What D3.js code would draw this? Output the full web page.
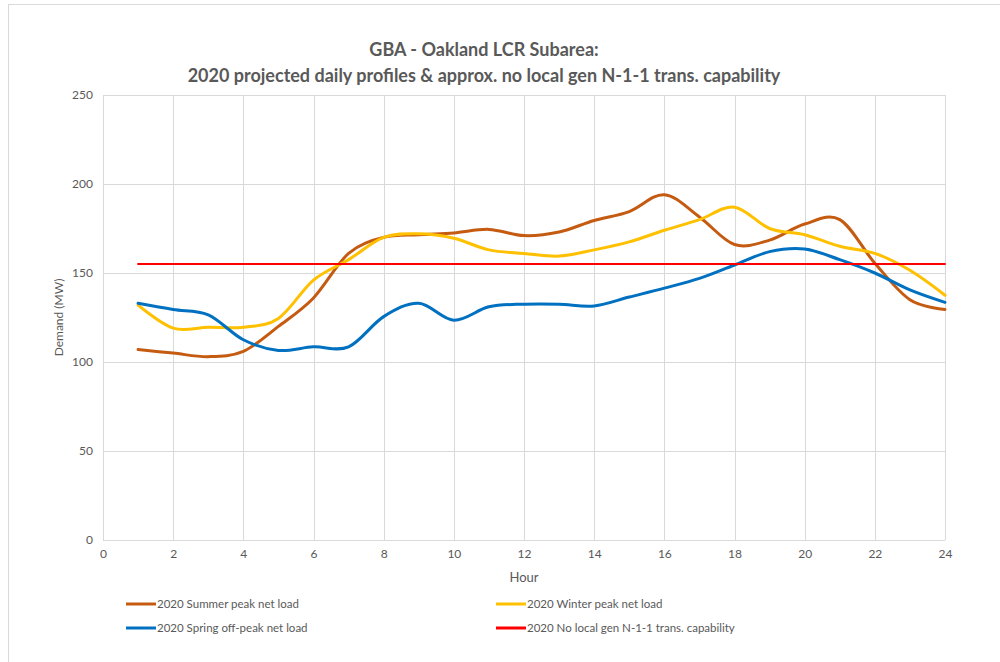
<!DOCTYPE html>
<html>
<head>
<meta charset="utf-8">
<script src="https://cdn.jsdelivr.net/npm/d3@7/dist/d3.min.js"></script>
<style>
  html, body { margin: 0; padding: 0; background: #fff; }
  svg { display: block; }
  text { font-family: Lato, "Open Sans", Arial, sans-serif; fill: #595959; }
</style>
</head>
<body>
<svg id="chart" width="1000" height="662"></svg>
<script>
// Hourly demand profiles (MW), hours 1..24
const hours = d3.range(1, 25);
const summerPeak = [107, 105, 103, 106, 120, 136, 161, 170, 171.5, 172.5, 174.5, 171, 173, 179.5, 184.5, 194, 181.5, 166, 168.5, 177.5, 180, 155.5, 135, 129.5];
const winterPeak = [132, 119, 119.5, 119.5, 124.5, 146, 157.5, 170, 172, 169.5, 163, 161, 159.5, 163, 167.5, 174, 180, 187, 175, 171.5, 165, 161, 151.5, 137.5];
const springOffPeak = [133, 129.5, 126.5, 112.5, 106.5, 108.5, 108.5, 125.5, 133, 123.5, 131, 132.5, 132.5, 131.5, 136.5, 141.5, 147, 154.5, 162, 163.5, 157.5, 150, 140.5, 133.5];
const capability = 155;

const xTicks = d3.range(0, 25, 2);
const yTicks = [0, 50, 100, 150, 200, 250];

const series = [
  { name: "2020 Summer peak net load", values: summerPeak, color: "#C55A11", width: 3 },
  { name: "2020 Winter peak net load", values: winterPeak, color: "#FFC000", width: 3 },
  { name: "2020 Spring off-peak net load", values: springOffPeak, color: "#0070C0", width: 3 },
  { name: "2020 No local gen N-1-1 trans. capability", values: hours.map(() => capability), color: "#FF0000", width: 2 }
];

const svg = d3.select("#chart");
const margin = { left: 103, right: 55, top: 95, bottom: 122 };
const W = 1000, H = 662;
const x = d3.scaleLinear().domain([0, 24]).range([margin.left, W - margin.right]);
const y = d3.scaleLinear().domain([0, 250]).range([H - margin.bottom, margin.top]);

// chart area border
svg.append("rect").attr("x", 8.5).attr("y", 4.5).attr("width", 1000).attr("height", 700)
  .attr("fill", "none").attr("stroke", "#D9D9D9").attr("stroke-width", 1);

// gridlines
const grid = svg.append("g");
grid.selectAll("line.h").data(yTicks).join("line")
  .attr("x1", x(0)).attr("x2", x(24))
  .attr("y1", d => Math.round(y(d)) + 0.5).attr("y2", d => Math.round(y(d)) + 0.5)
  .attr("stroke", "#D9D9D9").attr("stroke-width", 1);
grid.selectAll("line.v").data(xTicks).join("line")
  .attr("y1", y(0)).attr("y2", y(250))
  .attr("x1", d => Math.round(x(d)) + 0.5).attr("x2", d => Math.round(x(d)) + 0.5)
  .attr("stroke", "#D9D9D9").attr("stroke-width", 1);

// axes
const xAxis = d3.axisBottom(x).tickValues(xTicks).tickSize(0).tickPadding(9);
const yAxis = d3.axisLeft(y).tickValues(yTicks).tickSize(0).tickPadding(10);
const gx = svg.append("g").attr("transform", `translate(0,${y(0)})`).call(xAxis);
const gy = svg.append("g").attr("transform", `translate(${x(0)},0)`).call(yAxis);
[gx, gy].forEach(g => {
  g.select(".domain").remove();
  g.selectAll("text").style("font-size", "12px").style("font-family", "Lato, sans-serif").attr("fill", "#595959");
});

// axis titles
svg.append("text").attr("x", (x(0) + x(24)) / 2).attr("y", 582)
  .attr("text-anchor", "middle").style("font-size", "13px").text("Hour");
svg.append("text").attr("transform", `translate(63,${(y(0) + y(250)) / 2}) rotate(-90)`)
  .attr("text-anchor", "middle").style("font-size", "12px").text("Demand (MW)");

// title
const title = svg.append("text").attr("text-anchor", "middle").style("font-size", "18px").style("font-weight", "bold");
title.append("tspan").attr("x", 484).attr("y", 56).text("GBA - Oakland LCR Subarea:");
title.append("tspan").attr("x", 484).attr("y", 82).text("2020 projected daily profiles & approx. no local gen N-1-1 trans. capability");

// lines
const line = d3.line()
  .x((d, i) => x(hours[i]))
  .y(d => y(d))
  .curve(d3.curveCardinal.tension(0));
svg.append("g").selectAll("path").data(series).join("path")
  .attr("d", d => line(d.values))
  .attr("fill", "none")
  .attr("stroke", d => d.color)
  .attr("stroke-width", d => d.width)
  .attr("stroke-linejoin", "round")
  .attr("stroke-linecap", "round");

// legend
const legendPos = [[126, 604], [496, 604], [126, 628], [496, 628]];
const legend = svg.append("g").selectAll("g").data(series).join("g")
  .attr("transform", (d, i) => `translate(${legendPos[i][0]},${legendPos[i][1]})`);
legend.append("line").attr("x1", 0).attr("x2", 30).attr("y1", 0).attr("y2", 0)
  .attr("stroke", d => d.color).attr("stroke-width", 3);
legend.append("text").attr("x", 31).attr("y", 4).style("font-size", "11.5px").text(d => d.name);
</script>
</body>
</html>
